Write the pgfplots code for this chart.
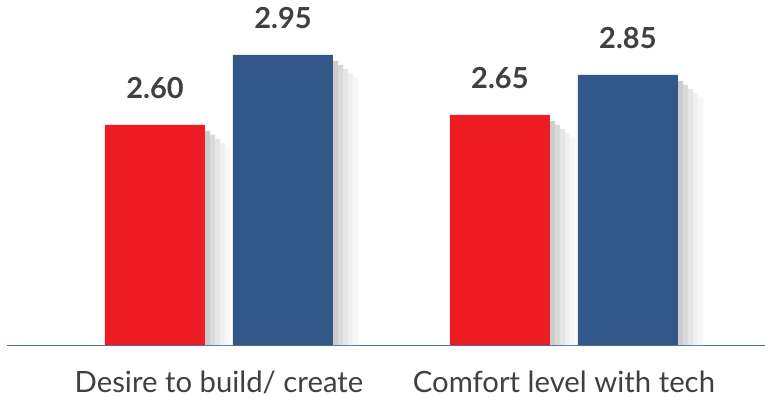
\documentclass[border=0pt]{standalone}
\usepackage{pgfplots}
\pgfplotsset{compat=1.18}
\usepackage{fontspec}
\setmainfont{Lato}
\definecolor{cred}{HTML}{ED1C24}
\definecolor{cblue}{HTML}{34578A}
\definecolor{ctext}{HTML}{404040}
\definecolor{caxis}{HTML}{4A6FA5}
\begin{document}
\begin{tikzpicture}
\useasboundingbox (0,0) rectangle (765bp,398bp);
\begin{axis}[
  at={(7bp,53bp)}, anchor=south west,
  scale only axis, width=758bp, height=345bp,
  xmin=-0.6145, xmax=1.583,
  ymin=1.5, ymax=3.225,
  axis x line=bottom, axis y line=none,
  axis line style={caxis, line width=1pt, -},
  xtick={0,1}, xticklabels={Desire to build/ create, Comfort level with tech},
  major tick length=0pt,
  xticklabel style={anchor=base, yshift=-47bp, font=\fontsize{29.3bp}{31bp}\selectfont, text=ctext},
  ytick=\empty,
  clip=false,
  ybar, bar width=100bp,
  shadow/.style={draw=none, bar width=5.2bp, forget plot},
]
% shadows of red bars (right edge at -14bp)
\addplot[shadow, fill=black!20, bar shift=-11.5bp] coordinates {(0,2.57) (1,2.62)};
\addplot[shadow, fill=black!15, bar shift=-6.5bp]  coordinates {(0,2.55) (1,2.60)};
\addplot[shadow, fill=black!10, bar shift=-1.5bp]  coordinates {(0,2.53) (1,2.58)};
\addplot[shadow, fill=black!6,  bar shift=3.5bp]   coordinates {(0,2.51) (1,2.56)};
\addplot[shadow, fill=black!3,  bar shift=8.5bp]   coordinates {(0,2.49) (1,2.54)};
% shadows of blue bars (right edge at 114bp)
\addplot[shadow, fill=black!20, bar shift=116.5bp] coordinates {(0,2.92) (1,2.82)};
\addplot[shadow, fill=black!15, bar shift=121.5bp] coordinates {(0,2.90) (1,2.80)};
\addplot[shadow, fill=black!10, bar shift=126.5bp] coordinates {(0,2.88) (1,2.78)};
\addplot[shadow, fill=black!6,  bar shift=131.5bp] coordinates {(0,2.86) (1,2.76)};
\addplot[shadow, fill=black!3,  bar shift=136.5bp] coordinates {(0,2.84) (1,2.74)};
% bars
\addplot[draw=none, fill=cred, bar shift=-64bp,
  nodes near coords, point meta=explicit symbolic,
  every node near coord/.append style={anchor=base, yshift=26bp, inner sep=0pt, text=ctext, font=\fontsize{29bp}{30bp}\selectfont\bfseries}]
  coordinates {(0,2.60) [2.60] (1,2.65) [2.65]};
\addplot[draw=none, fill=cblue, bar shift=64bp,
  nodes near coords, point meta=explicit symbolic,
  every node near coord/.append style={anchor=base, yshift=26bp, inner sep=0pt, text=ctext, font=\fontsize{29bp}{30bp}\selectfont\bfseries}]
  coordinates {(0,2.95) [2.95] (1,2.85) [2.85]};
\end{axis}
\end{tikzpicture}
\end{document}
